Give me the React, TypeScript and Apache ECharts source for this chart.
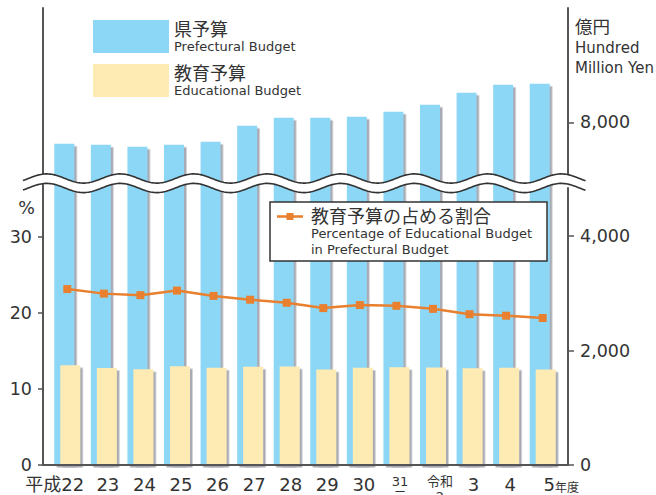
import React, { useEffect, useRef } from 'react';
import * as echarts from 'echarts';

// ---- data ----
const categories = ['平成22', '23', '24', '25', '26', '27', '28', '29', '30', '31元', '令和2', '3', '4', '5'];
const prefecturalBudget = [7628, 7610, 7576, 7610, 7663, 7942, 8082, 8082, 8100, 8187, 8309, 8519, 8659, 8676];
const educationalBudget = [1745, 1695, 1675, 1725, 1700, 1715, 1720, 1670, 1700, 1710, 1705, 1690, 1700, 1670];
const educationShare = [23.1, 22.5, 22.3, 22.9, 22.2, 21.7, 21.3, 20.6, 21.0, 20.9, 20.5, 19.8, 19.6, 19.3];
const percentTicks = [0, 10, 20, 30];
const yenTicks = [0, 2000, 4000, 8000];

const FONT = "'DejaVu Sans', 'Noto Sans CJK JP', sans-serif";
const TEXT = '#333333';
const BLUE = '#8DD7F6';
const BEIGE = '#FEEBB4';
const SHADOW = '#A8ABB3';
const ORANGE = '#E8802F';
const AXIS = '#555555';

function labelFor(v: string): string {
  if (v === '平成22') return '{n|平成22}{pad0| }';
  if (v === '31元') return '{pad7| }{s|31}\n{pad7| }{s|元}';
  if (v === '令和2') return '{pad14| }{s|令和}\n{pad14| }{s|2}';
  if (v === '5') return '{pad5| }{n|5}{t|年度}';
  return '{padN| }{n|' + v + '}';
}

function wavePoints(offset: number): number[][] {
  const pts: number[][] = [];
  for (let x = 23; x <= 586; x += 1.5) {
    const y = 178.5 + offset - 4.6 * Math.cos((2 * Math.PI * (x - 46.7)) / 73.5);
    pts.push([x, y]);
  }
  return pts;
}

export default function App() {
  const ref = useRef<HTMLDivElement>(null);
  useEffect(() => {
    if (!ref.current) return;
    const chart = echarts.init(ref.current, undefined, { renderer: 'svg' });
    const upper = wavePoints(0);
    const lower = wavePoints(9.5);
    const band = upper.concat(lower.slice().reverse());

    const option: any = {
      animation: false,
      textStyle: { fontFamily: FONT, color: TEXT },
      grid: { left: 49, right: 95, top: 8, bottom: 30, containLabel: false, outerBoundsMode: 'none' },
      legend: {
        data: ['県予算', '教育予算'],
        orient: 'vertical',
        left: 93,
        top: 20,
        padding: 0,
        itemWidth: 76,
        itemHeight: 33,
        itemGap: 11,
        icon: 'rect',
        itemStyle: { shadowBlur: 0, shadowOffsetX: 0, shadowOffsetY: 0, shadowColor: 'transparent' },
        formatter: (name: string) =>
          name === '県予算'
            ? '{a|県予算}\n{b|Prefectural Budget}'
            : '{a|教育予算}\n{b|Educational Budget}',
        textStyle: {
          fontFamily: FONT,
          color: TEXT,
          rich: {
            a: { fontSize: 18, lineHeight: 20, fontFamily: FONT, color: TEXT },
            b: { fontSize: 13, lineHeight: 15, fontFamily: FONT, color: TEXT },
          },
        },
      },
      xAxis: {
        type: 'category',
        data: categories,
        axisLine: { show: false },
        axisTick: { show: false },
        axisLabel: {
          interval: 0,
          margin: 9,
          color: TEXT,
          fontFamily: FONT,
          formatter: (v: string) => labelFor(v),
          rich: {
            n: { fontSize: 18, lineHeight: 20, fontFamily: FONT, color: TEXT },
            s: { fontSize: 13, lineHeight: 15, fontFamily: FONT, color: TEXT },
            t: { fontSize: 12, lineHeight: 12, verticalAlign: 'bottom', fontFamily: FONT, color: TEXT },
            padN: { width: 8 },
            pad0: { width: 25 },
            pad7: { width: 7 },
            pad14: { width: 14 },
            pad5: { width: 37 },
          },
        },
      },
      yAxis: [
        {
          type: 'value',
          position: 'left',
          offset: 6,
          min: 0,
          max: 60,
          interval: 10,
          splitLine: { show: false },
          axisLine: { show: true, lineStyle: { color: AXIS, width: 2 } },
          axisTick: { show: true, length: 5, customValues: percentTicks, lineStyle: { color: AXIS, width: 1.5 } },
          axisLabel: { customValues: percentTicks, margin: 11, fontSize: 17.5, color: TEXT, fontFamily: FONT },
        },
        {
          type: 'value',
          position: 'right',
          offset: 7,
          min: 0,
          max: 10000,
          interval: 2000,
          breaks: [{ start: 4840, end: 7030, gap: 175 }],
          breakArea: { show: false },
          splitLine: { show: false },
          axisLine: { show: true, lineStyle: { color: AXIS, width: 2 } },
          axisTick: { show: true, length: 6, customValues: yenTicks, lineStyle: { color: AXIS, width: 1.5 } },
          axisLabel: {
            customValues: yenTicks,
            margin: 12,
            fontSize: 17.5,
            color: TEXT,
            fontFamily: FONT,
            formatter: (v: number) => v.toLocaleString('en-US'),
          },
        },
      ],
      series: [
        {
          name: '県予算',
          type: 'bar',
          yAxisIndex: 1,
          data: prefecturalBudget,
          barWidth: 20,
          barGap: '-70%',
          itemStyle: { color: BLUE, shadowColor: SHADOW, shadowBlur: 0, shadowOffsetX: 2.5, shadowOffsetY: 2.5 },
          z: 2,
        },
        {
          name: '教育予算',
          type: 'bar',
          yAxisIndex: 1,
          data: educationalBudget,
          barWidth: 20,
          barGap: '-70%',
          itemStyle: { color: BEIGE, shadowColor: SHADOW, shadowBlur: 0, shadowOffsetX: 2.5, shadowOffsetY: 2.5 },
          z: 3,
        },
        {
          name: '教育予算の占める割合',
          type: 'line',
          yAxisIndex: 0,
          data: educationShare,
          symbol: 'rect',
          symbolSize: 8,
          itemStyle: { color: ORANGE },
          lineStyle: { color: ORANGE, width: 2.5 },
          z: 5,
        },
      ],
      graphic: [
        { type: 'line', z: 20, shape: { x1: 42, y1: 465, x2: 569, y2: 465 }, style: { stroke: AXIS, lineWidth: 2 } },
        { type: 'polygon', z: 50, shape: { points: band }, style: { fill: '#ffffff', stroke: 'none' } },
        { type: 'polyline', z: 51, shape: { points: upper }, style: { stroke: '#333', lineWidth: 1.6, fill: 'none' } },
        { type: 'polyline', z: 51, shape: { points: lower }, style: { stroke: '#333', lineWidth: 1.6, fill: 'none' } },
        {
          type: 'text', z: 52, x: 26.5, y: 207.5,
          style: { text: '%', fontSize: 17.5, fontFamily: FONT, fill: TEXT, align: 'center', verticalAlign: 'middle' },
        },
        {
          type: 'text', z: 52, x: 575, y: 27,
          style: { text: '億円', fontSize: 17.5, fontFamily: FONT, fill: TEXT, align: 'left', verticalAlign: 'middle' },
        },
        {
          type: 'text', z: 52, x: 575, y: 48,
          style: { text: 'Hundred', fontSize: 15, fontFamily: FONT, fill: TEXT, align: 'left', verticalAlign: 'middle' },
        },
        {
          type: 'text', z: 52, x: 575, y: 67.5,
          style: { text: 'Million Yen', fontSize: 15, fontFamily: FONT, fill: TEXT, align: 'left', verticalAlign: 'middle' },
        },
        {
          type: 'rect', z: 60, shape: { x: 270, y: 202, width: 277, height: 59 },
          style: { fill: '#ffffff', stroke: '#333', lineWidth: 1.5 },
        },
        {
          type: 'line', z: 61, shape: { x1: 277, y1: 216.5, x2: 303, y2: 216.5 },
          style: { stroke: ORANGE, lineWidth: 2.5 },
        },
        {
          type: 'rect', z: 62, shape: { x: 286.5, y: 213, width: 7, height: 7 },
          style: { fill: ORANGE },
        },
        {
          type: 'text', z: 62, x: 311, y: 216.5,
          style: { text: '教育予算の占める割合', fontSize: 18, fontFamily: FONT, fill: TEXT, align: 'left', verticalAlign: 'middle' },
        },
        {
          type: 'text', z: 62, x: 311, y: 233,
          style: { text: 'Percentage of Educational Budget', fontSize: 13, fontFamily: FONT, fill: TEXT, align: 'left', verticalAlign: 'middle' },
        },
        {
          type: 'text', z: 62, x: 311, y: 249.5,
          style: { text: 'in Prefectural Budget', fontSize: 13, fontFamily: FONT, fill: TEXT, align: 'left', verticalAlign: 'middle' },
        },
      ],
    };
    chart.setOption(option);
    return () => chart.dispose();
  }, []);
  return (
    <div
      ref={ref}
      style={{ position: 'fixed', left: 0, top: 0, width: 656, height: 495, background: '#fff' }}
    />
  );
}
